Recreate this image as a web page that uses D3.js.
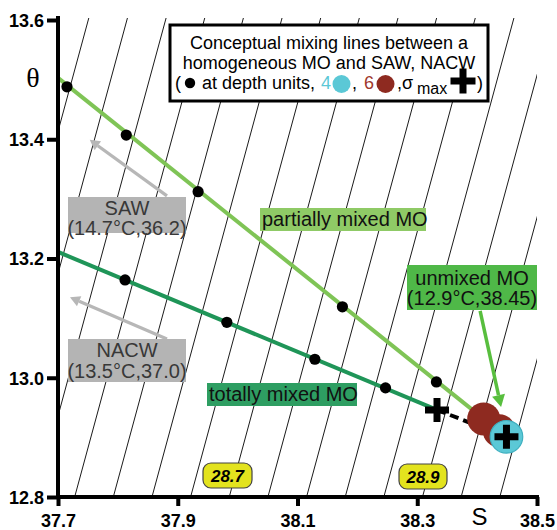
<!DOCTYPE html>
<html><head><meta charset="utf-8">
<script src="https://cdn.jsdelivr.net/npm/d3@7"></script>
<style>
body{margin:0;background:#fff}
svg{display:block;font-family:"Liberation Sans",Arial,sans-serif}
</style>
</head><body>
<svg id="c" width="557" height="530"></svg>
<script>
// ---------------- data ----------------
const xTicks = [37.7, 37.9, 38.1, 38.3, 38.5];
const yTicks = [12.8, 13.0, 13.2, 13.4, 13.6];

// isopycnal levels (sigma-theta) and linear equation-of-state parameters
const sigmaLevels = [28.42,28.46,28.50,28.54,28.58,28.62,28.66,28.70,28.74,28.78,28.82,28.86,28.90,28.94,28.98];
const sigmaRef = 28.70, sRef = 37.986, tRef = 12.8, betaS = 0.6197, alphaT = 0.1676;
const sigmaLabels = ["28.7", "28.9"];

// partially mixed MO line (SAW side -> depth unit 6)
const partialLineS = [37.700, 38.411];
const partialLineT = [13.503, 12.931];
const partialDotsS = [37.715, 37.814, 37.934, 38.175, 38.332];
const partialDotsT = [13.488, 13.407, 13.312, 13.119, 12.993];

// totally mixed MO line (NACW side -> sigma max)
const totalLineS = [37.700, 38.333];
const totalLineT = [13.211, 12.946];
const totalDotsS = [37.812, 37.982, 38.129, 38.247];
const totalDotsT = [13.164, 13.093, 13.031, 12.983];

// dashed link between the two sigma-max crosses
const sigmaMaxS = [38.333, 38.449];
const sigmaMaxT = [12.946, 12.901];

// depth units
const unit6S = [38.411, 38.437];
const unit6T = [12.931, 12.911];
const unit4S = [38.449];
const unit4T = [12.901];

// annotation arrows (from -> to) in S, theta
const sawArrowS = [37.882, 37.753], sawArrowT = [13.305, 13.399];
const nacwArrowS = [37.882, 37.720], nacwArrowT = [13.065, 13.135];
const moArrowS = [38.405, 38.440], moArrowT = [13.112, 12.951];

// ---------------- drawing ----------------
const svg = d3.select("#c");
const x = d3.scaleLinear().domain([37.7, 38.5]).range([58, 537]);
const y = d3.scaleLinear().domain([12.8, 13.6]).range([497, 20]);

svg.append("defs").append("clipPath").attr("id","plot")
  .append("rect").attr("x",58).attr("y",18).attr("width",479).attr("height",479);

// isopycnals
const sAt = (sig, t) => sRef + (sig - sigmaRef + alphaT*(t - tRef))/betaS;
const tLo = 12.75, tHi = 13.65;
svg.append("g").attr("clip-path","url(#plot)")
  .selectAll("line").data(sigmaLevels).join("line")
  .attr("x1", d => x(sAt(d, tLo))).attr("y1", y(tLo))
  .attr("x2", d => x(sAt(d, tHi))).attr("y2", y(tHi))
  .attr("stroke","#000").attr("stroke-width",0.9);

const line = d3.line().x(d => x(d[0])).y(d => y(d[1]));
const zip = (a,b) => a.map((v,i)=>[v,b[i]]);

// mixing lines
svg.append("path").attr("d", line(zip(partialLineS, partialLineT)))
  .attr("stroke","#7fc456").attr("stroke-width",4).attr("fill","none");
svg.append("path").attr("d", line(zip(totalLineS, totalLineT)))
  .attr("stroke","#1f9558").attr("stroke-width",4).attr("fill","none");
svg.append("path").attr("d", line(zip(sigmaMaxS, sigmaMaxT)))
  .attr("stroke","#000").attr("stroke-width",4).attr("stroke-dasharray","9,5").attr("fill","none");

// depth-unit dots
svg.append("g").selectAll("circle").data(zip(partialDotsS,partialDotsT).concat(zip(totalDotsS,totalDotsT)))
  .join("circle").attr("cx",d=>x(d[0])).attr("cy",d=>y(d[1])).attr("r",5.6).attr("fill","#000");

// unit 6 (brown) and unit 4 (cyan)
svg.append("g").selectAll("circle").data(zip(unit6S,unit6T).reverse()).join("circle")
  .attr("cx",d=>x(d[0])).attr("cy",d=>y(d[1])).attr("r",16.5).attr("fill","#8e2a20");
svg.append("g").selectAll("circle").data(zip(unit4S,unit4T)).join("circle")
  .attr("cx",d=>x(d[0])).attr("cy",d=>y(d[1])).attr("r",16.3).attr("fill","#5bc8d6")
  .attr("stroke","#3fb0c0").attr("stroke-width",1.2);

// crosses
function crossPath(cx, cy, L, w){
  const a=L/2, b=w/2;
  return `M${cx-b},${cy-a}H${cx+b}V${cy-b}H${cx+a}V${cy+b}H${cx+b}V${cy+a}H${cx-b}V${cy+b}H${cx-a}V${cy-b}H${cx-b}Z`;
}
svg.append("g").selectAll("path").data(zip(sigmaMaxS,sigmaMaxT)).join("path")
  .attr("d",d=>crossPath(x(d[0]),y(d[1]),24,7)).attr("fill","#000");

// arrows
function arrow(S, T, color, w, head){
  const x1=x(S[0]), y1=y(T[0]), x2=x(S[1]), y2=y(T[1]);
  const ang=Math.atan2(y2-y1,x2-x1);
  const bx=x2-head*Math.cos(ang), by=y2-head*Math.sin(ang);
  const g=svg.append("g");
  g.append("line").attr("x1",x1).attr("y1",y1).attr("x2",bx).attr("y2",by)
    .attr("stroke",color).attr("stroke-width",w);
  const hw=head*0.55;
  g.append("path").attr("d",`M${x2},${y2}L${bx-hw*Math.sin(ang)},${by+hw*Math.cos(ang)}L${bx+hw*Math.sin(ang)},${by-hw*Math.cos(ang)}Z`)
    .attr("fill",color);
}
arrow(sawArrowS, sawArrowT, "#b7b7b7", 3.2, 10);
arrow(nacwArrowS, nacwArrowT, "#b7b7b7", 3.2, 10);
arrow(moArrowS, moArrowT, "#58be3e", 3.5, 12);

// label boxes
function labelBox(x0,y0,w,h,fill,lines,color,size){
  const g=svg.append("g");
  g.append("rect").attr("x",x0).attr("y",y0).attr("width",w).attr("height",h).attr("fill",fill);
  lines.forEach(l=>{
    g.append("text").attr("x",l.x).attr("y",l.y).attr("text-anchor",l.anchor||"middle")
      .attr("font-size",size).attr("fill",color).text(l.t);
  });
}
labelBox(68,197,118,36,"#b4b4b4",[{t:"SAW",x:127,y:215},{t:"(14.7°C,36.2)",x:127,y:235}],"#383838",20);
labelBox(68,339,118,43,"#b4b4b4",[{t:"NACW",x:127,y:357},{t:"(13.5°C,37.0)",x:127,y:378}],"#383838",20);
labelBox(260,208,166,23,"#8fca66",[{t:"partially mixed MO",x:262,y:226,anchor:"start"}],"#111",20);
labelBox(207,383,150,23,"#2e9e62",[{t:"totally mixed MO",x:209,y:401,anchor:"start"}],"#111",20);
labelBox(407,265,130,45,"#4fb848",[{t:"unmixed MO",x:472,y:285},{t:"(12.9°C,38.45)",x:472,y:305}],"#111",20);

// isopycnal labels
[[sigmaLabels[0],203,463,49,25],[sigmaLabels[1],399,464,48,25]].forEach(d=>{
  svg.append("rect").attr("x",d[1]).attr("y",d[2]).attr("width",d[3]).attr("height",d[4])
    .attr("rx",8).attr("fill","#e3e31e").attr("stroke","#444").attr("stroke-width",1.2);
  svg.append("text").attr("x",d[1]+d[3]/2).attr("y",d[2]+19).attr("text-anchor","middle")
    .attr("font-size",17).attr("font-weight","bold").attr("font-style","italic").text(d[0]);
});

// legend
const lg=svg.append("g");
lg.append("rect").attr("x",170).attr("y",25).attr("width",318).attr("height",76)
  .attr("fill","#fff").attr("stroke","#000").attr("stroke-width",3);
lg.append("text").attr("x",329).attr("y",48.5).attr("text-anchor","middle").attr("font-size",18)
  .text("Conceptual mixing lines between a");
lg.append("text").attr("x",329).attr("y",68.5).attr("text-anchor","middle").attr("font-size",18)
  .text("homogeneous MO and SAW, NACW");
const ly=89;
lg.append("text").attr("x",175).attr("y",ly).attr("font-size",18).text("(");
lg.append("circle").attr("cx",190).attr("cy",ly-6).attr("r",5.2).attr("fill","#000");
lg.append("text").attr("x",202).attr("y",ly).attr("font-size",18).text("at depth units,");
lg.append("text").attr("x",321).attr("y",ly).attr("font-size",18).attr("fill","#5bc8d6").text("4");
lg.append("circle").attr("cx",341.5).attr("cy",ly-5).attr("r",9).attr("fill","#5bc8d6");
lg.append("text").attr("x",352).attr("y",ly).attr("font-size",18).text(",");
lg.append("text").attr("x",364).attr("y",ly).attr("font-size",18).attr("fill","#a0382c").text("6");
lg.append("circle").attr("cx",385.5).attr("cy",ly-5).attr("r",9).attr("fill","#8e2a20");
lg.append("text").attr("x",397).attr("y",ly).attr("font-size",18).text(",");
lg.append("text").attr("x",402).attr("y",ly).attr("font-size",18).text("σ");
lg.append("text").attr("x",417).attr("y",ly+5).attr("font-size",16).text("max");
lg.append("path").attr("d",crossPath(463,81,25,7)).attr("fill","#000");
lg.append("text").attr("x",477).attr("y",ly).attr("font-size",18).text(")");

// axes
const ax=svg.append("g");
ax.append("line").attr("x1",58).attr("x2",58).attr("y1",16).attr("y2",499).attr("stroke","#000").attr("stroke-width",4);
ax.append("line").attr("x1",56).attr("x2",539).attr("y1",497).attr("y2",497).attr("stroke","#000").attr("stroke-width",4);
const yAxis = svg.append("g").attr("transform","translate(58,0)")
  .call(d3.axisLeft(y).tickValues(yTicks).tickFormat(d3.format(".1f")).tickSize(11).tickPadding(4).tickSizeOuter(0));
const xAxis = svg.append("g").attr("transform","translate(0,497)")
  .call(d3.axisBottom(x).tickValues(xTicks).tickFormat(d3.format(".1f")).tickSize(9).tickPadding(4).tickSizeOuter(0));
[yAxis,xAxis].forEach(a=>{
  a.select(".domain").remove();
  a.selectAll(".tick line").attr("stroke","#000").attr("stroke-width",4);
  a.selectAll(".tick text").attr("font-family","Liberation Sans, Arial, sans-serif")
    .attr("font-size",18).attr("font-weight","bold").attr("fill","#000");
});
xAxis.selectAll(".tick text").attr("dy",null).attr("y",30);
yAxis.selectAll(".tick text").attr("x",-14).attr("dy","0.36em");

svg.append("text").attr("x",33).attr("y",87).attr("text-anchor","middle")
  .attr("font-family","Liberation Serif, Times New Roman, serif").attr("font-size",28).text("θ");
svg.append("text").attr("x",479.5).attr("y",525).attr("text-anchor","middle")
  .attr("font-size",24).text("S");
</script>
</body></html>
